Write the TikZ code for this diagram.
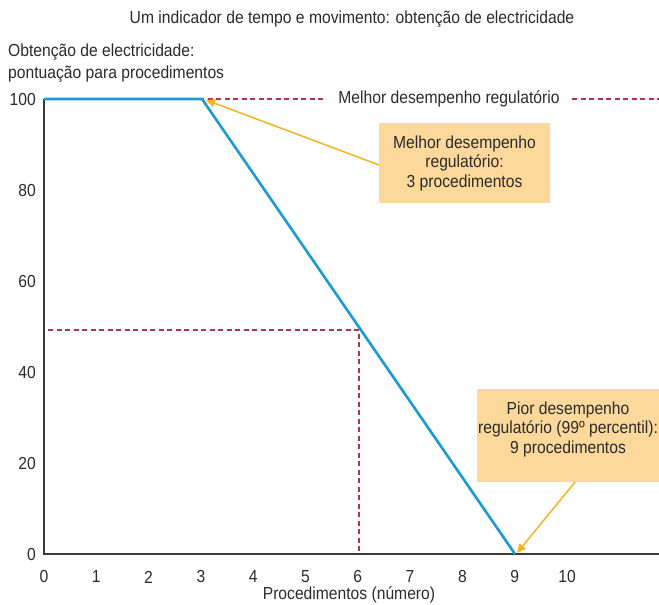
\documentclass[tikz,border=0pt]{standalone}
\usepackage{fontspec}
\setmainfont{Liberation Sans}[FakeStretch=0.9]
\usetikzlibrary{arrows.meta}
\definecolor{axisgray}{HTML}{3A3A3A}
\definecolor{lineblue}{HTML}{1B9AD6}
\definecolor{dashred}{HTML}{B0344A}
\definecolor{boxfill}{HTML}{FCD99B}
\definecolor{arrowyellow}{HTML}{F7B21E}
\definecolor{txt}{HTML}{2B2B2B}
\tikzset{
  lbl/.style={font=\fontsize{17.4}{19}\selectfont, text=txt, inner sep=0pt},
  ylbl/.style={lbl, anchor=east},
  xlbl/.style={lbl, anchor=center},
  axisline/.style={draw=axisgray, line width=1.4pt},
  curve/.style={draw=lineblue, line width=2.6pt, line join=miter},
  refdash/.style={draw=dashred, line width=1.1pt, dash pattern=on 5pt off 3.5pt},
  callout/.style={fill=boxfill, inner sep=0pt, text=txt, align=center,
    font=\fontsize{17.4}{19.5}\selectfont},
  pointer/.style={draw=arrowyellow, line width=1.5pt, -{Triangle[length=9pt,width=8pt]}}
}
\begin{document}
\begin{tikzpicture}[x=1pt,y=-1pt]
\useasboundingbox (0,0) rectangle (659,605);
% title and axis title
\node[lbl] (title) at (352,19) {Um indicador de tempo e movimento: obtenção de electricidade};
\node[lbl, anchor=west] (yt1) at (8,52) {Obtenção de electricidade:};
\node[lbl, anchor=west] (yt2) at (8,74) {pontuação para procedimentos};
% reference points
\coordinate (o) at (44,554);
\coordinate (ytop) at (44,99);
\coordinate (xend) at (662,554);
\coordinate (p0) at (44,99);
\coordinate (p3) at (202,99);
\coordinate (p9) at (515,554);
% dashed references
\coordinate (d1a) at (46,99);
\coordinate (d1b) at (326,99);
\node[lbl] (best) at (449,99) {Melhor desempenho regulatório};
\coordinate (d2a) at (572,99);
\coordinate (d2b) at (662,99);
\draw[refdash] (d1a) -- (d1b);
\draw[refdash] (d2a) -- (d2b);
\coordinate (h1) at (48,330);
\coordinate (h2) at (359,330);
\coordinate (h3) at (359,554);
\draw[refdash] (h1) -- (h2) -- (h3);
% axes
\draw[axisline] (ytop) -- (o) -- (xend);
% curve
\draw[curve] (p0) -- (p3) -- (p9);
% y labels
\foreach \v/\yy in {100/100,80/191,60/282,40/373,20/464,0/555}
  \node[ylbl] (y\v) at (36,\yy) {\v};
% x labels
\foreach \i in {0,...,10}
  \node[xlbl] (x\i) at ({44+52.3*\i},577) {\i};
\node[lbl] (xt) at (349,595) {Procedimentos (número)};
% callouts
\node[callout, minimum width=171pt, minimum height=80pt] (box1) at (464.5,163)
  {Melhor desempenho\\regulatório:\\3 procedimentos};
\fill[boxfill] (477,389) rectangle (670,482);
\node[callout] (box2) at (568,429)
  {Pior desempenho\\regulatório (99º percentil):\\9 procedimentos};
\coordinate (b1) at (379,165);
\coordinate (t1) at (206,100);
\coordinate (b2) at (575,482);
\coordinate (t2) at (517,553);
\draw[pointer] (b1) -- (t1);
\draw[pointer] (b2) -- (t2);
\end{tikzpicture}
\end{document}
